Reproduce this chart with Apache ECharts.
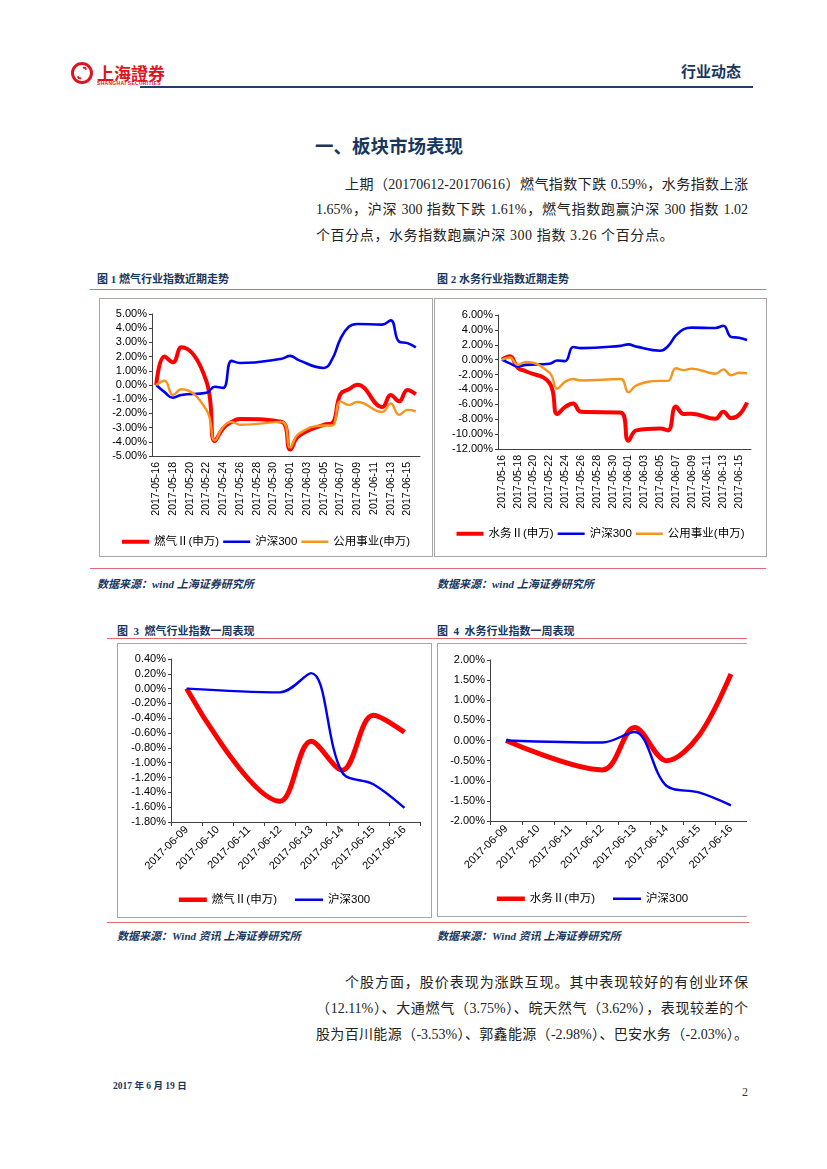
<!DOCTYPE html>
<html><head><meta charset="utf-8">
<script src="https://cdn.jsdelivr.net/npm/echarts@6/dist/echarts.min.js"></script>
<style>
html,body{margin:0;padding:0;background:#fff;}
#page{position:relative;width:827px;height:1169px;overflow:hidden;font-family:"Liberation Serif","Noto Sans CJK SC",serif;}
.abs{position:absolute;white-space:nowrap;}
.navy{color:#17375e;}
.cap{font-family:"Liberation Serif","Noto Sans CJK SC",serif;font-weight:bold;font-size:11px;color:#17375e;}
.src{font-family:"Liberation Serif","Noto Sans CJK SC",serif;font-weight:bold;font-style:italic;font-size:11px;color:#17375e;}
.para{font-size:14px;color:#222;text-align:justify;text-align-last:justify;}
.box{position:absolute;border:1px solid #a6a6a6;box-sizing:border-box;}
.rule{position:absolute;height:1px;background:#e06a70;}
</style></head>
<body><div id="page">
<!-- header -->
<div class="abs" style="left:71px;top:62px;width:22px;height:22px;border-radius:50%;border:3px solid #e0141e;box-sizing:border-box;"></div>
<div class="abs" style="left:78px;top:66px;width:8px;height:14px;border-radius:50%;border:2px solid #e0141e;border-left-color:transparent;border-right-color:transparent;box-sizing:border-box;transform:rotate(30deg);"></div>
<div class="abs" style="left:97px;top:60px;font-size:17px;font-weight:bold;color:#e0141e;font-family:'Noto Sans CJK TC';">上海證券</div>
<div class="abs" style="left:97px;top:80px;font-size:5px;font-weight:bold;color:#e0141e;font-family:'Liberation Sans';letter-spacing:0.3px;">SHANGHAI SECURITIES</div>
<div class="abs navy" style="left:681px;top:60px;font-size:15px;font-weight:bold;font-family:'Noto Sans CJK SC';">行业动态</div>
<div class="abs" style="left:140px;top:86px;width:613px;height:2px;background:#1f3f6a;"></div>

<div class="abs navy" style="left:315px;top:132px;font-size:18.5px;font-weight:bold;font-family:'Noto Sans CJK SC';">一、板块市场表现</div>

<div class="abs para" style="left:345px;top:173px;width:403px;">上期（20170612-20170616）燃气指数下跌 0.59%，水务指数上涨</div>
<div class="abs para" style="left:316px;top:198px;width:432px;">1.65%，沪深 300 指数下跌 1.61%，燃气指数跑赢沪深 300 指数 1.02</div>
<div class="abs" style="left:316px;top:224px;font-size:14px;color:#222;letter-spacing:0.6px;">个百分点，水务指数跑赢沪深 300 指数 3.26 个百分点。</div>

<!-- fig 1/2 captions -->
<div class="abs cap" style="left:97px;top:270px;">图 1 燃气行业指数近期走势</div>
<div class="abs cap" style="left:437px;top:270px;">图 2 水务行业指数近期走势</div>
<div class="rule" style="left:90px;top:289px;width:676px;"></div>

<div id="c1" class="box" style="left:99px;top:298px;width:334px;height:259px;"></div>
<div id="c2" class="box" style="left:434px;top:298px;width:333px;height:259px;"></div>
<div class="rule" style="left:90px;top:568px;width:676px;"></div>
<div class="abs src" style="left:97px;top:575px;">数据来源：wind 上海证券研究所</div>
<div class="abs src" style="left:437px;top:575px;">数据来源：wind 上海证券研究所</div>

<!-- fig 3/4 captions -->
<div class="abs cap" style="left:117px;top:622px;">图 &nbsp;3 &nbsp;燃气行业指数一周表现</div>
<div class="abs cap" style="left:437px;top:622px;">图 &nbsp;4 &nbsp;水务行业指数一周表现</div>
<div class="rule" style="left:107px;top:638px;width:640px;"></div>

<div id="c3" class="box" style="left:117px;top:643px;width:315px;height:275px;"></div>
<div id="c4" class="box" style="left:437px;top:643px;width:310px;height:274px;border-right:none;"></div>
<div class="rule" style="left:107px;top:922px;width:642px;"></div>
<div class="abs src" style="left:117px;top:927px;">数据来源：Wind 资讯 上海证券研究所</div>
<div class="abs src" style="left:437px;top:927px;">数据来源：Wind 资讯 上海证券研究所</div>

<div class="abs para" style="left:345px;top:971px;width:403px;">个股方面，股价表现为涨跌互现。其中表现较好的有创业环保</div>
<div class="abs para" style="left:316px;top:997px;width:432px;">（12.11%）、大通燃气（3.75%）、皖天然气（3.62%），表现较差的个</div>
<div class="abs para" style="left:316px;top:1023px;width:432px;">股为百川能源（-3.53%）、郭鑫能源（-2.98%）、巴安水务（-2.03%）。</div>

<div class="abs navy" style="left:113px;top:1078px;font-size:9.5px;font-weight:bold;">2017 年 6 月 19 日</div>
<div class="abs" style="left:742px;top:1085px;font-size:12px;color:#333;">2</div>
</div>
<script>
// ---- data ----
const monthDates = ['2017-05-16','2017-05-17','2017-05-18','2017-05-19','2017-05-20','2017-05-21','2017-05-22','2017-05-23','2017-05-24','2017-05-25','2017-05-26','2017-05-27','2017-05-28','2017-05-29','2017-05-30','2017-05-31','2017-06-01','2017-06-02','2017-06-03','2017-06-04','2017-06-05','2017-06-06','2017-06-07','2017-06-08','2017-06-09','2017-06-10','2017-06-11','2017-06-12','2017-06-13','2017-06-14','2017-06-15','2017-06-16'];
const gasMonth = [0,2.0,1.6,2.65,null,null,0.25,-3.95,-3.05,-2.6,-2.4,null,null,null,null,-2.6,-4.55,-3.6,null,null,-2.8,-2.7,-0.65,-0.3,0.02,null,null,-1.55,-0.7,-1.15,-0.35,-0.65];
const waterMonth = [0,0.45,-1.1,-1.55,null,null,-3.1,-7.3,-6.35,-5.9,-7.0,null,null,null,null,-7.1,-10.9,-9.5,null,null,-9.25,-9.5,-6.3,-7.3,-7.25,null,null,-7.95,-7.0,-7.85,-7.4,-5.75];
const hs300Month = [0,-0.5,-0.9,-0.7,null,null,-0.55,-0.12,-0.2,1.7,1.55,null,null,null,null,1.85,2.05,1.75,null,null,1.2,1.8,3.25,4.1,4.3,null,null,4.25,4.55,3.05,2.95,2.65];
const utilMonth = [0,0.3,-0.7,-0.3,null,null,-1.75,-3.9,-2.95,-2.6,-2.8,null,null,null,null,-2.6,-4.4,-3.45,null,null,-2.85,-2.85,-1.15,-1.4,-1.2,null,null,-1.9,-1.3,-2.1,-1.75,-1.85];

const weekDates = ['2017-06-09','2017-06-10','2017-06-11','2017-06-12','2017-06-13','2017-06-14','2017-06-15','2017-06-16'];
const gasWeek = [0,null,null,-1.52,-0.71,-1.1,-0.36,-0.59];
const waterWeek = [0,null,null,-0.73,0.32,-0.5,0.12,1.65];
const hs300Week = [0,null,null,-0.05,0.21,-1.13,-1.29,-1.61];

const gasName = '燃气Ⅱ(申万)', waterName = '水务Ⅱ(申万)', hsName = '沪深300', utilName = '公用事业(申万)';

// ---- helpers ----
const fmt = v => (Math.abs(v) < 1e-9 ? 0 : v).toFixed(2) + '%';
const RED = '#ff0000', BLUE = '#0000f0', ORANGE = '#f7941d';
const axisLineStyle = {lineStyle:{color:'#404040',width:1}};

// legend icons: a bar of a given thickness centred in a 10-unit tall box (tiny corner specks fix the bounding box)
function barIcon(th){
  const a = (10 - th) / 2, b = a + th;
  return 'path://M0,0L0.02,0L0.02,0.02Z M0,' + a + 'L30,' + a + 'L30,' + b + 'L0,' + b + 'Z M29.98,10L30,10L30,9.98Z';
}

function line(name, data, color, width, smooth){
  return {name, type:'line', data, smooth:smooth, connectNulls:true, symbol:'none', showSymbol:false,
          lineStyle:{color, width}, itemStyle:{color}};
}

function makeChart(id, opt){
  const ch = echarts.init(document.getElementById(id), null, {renderer:'canvas'});
  ch.setOption(opt);
}

function legendItems(list){
  return list.map(([name, color, th]) => ({name, icon:barIcon(th), itemStyle:{color, borderWidth:0}}));
}

function baseOpt(grid, cats, yMin, yMax, yInt, series, legend, xLabel, xTick){
  return {
    animation:false,
    grid,
    legend,
    xAxis:{type:'category', data:cats, boundaryGap:true,
      axisLine:{onZero:false, ...axisLineStyle},
      axisTick:xTick, axisLabel:xLabel},
    yAxis:{type:'value', min:yMin, max:yMax, interval:yInt, splitLine:{show:false},
      axisLine:{show:true, ...axisLineStyle}, axisTick:{show:true, length:3, lineStyle:{color:'#404040'}},
      axisLabel:{formatter:fmt, fontSize:11, color:'#000', fontFamily:'Liberation Sans', margin:5}},
    series
  };
}

const monthXLabel = {interval:1, rotate:90, fontSize:10.5, color:'#000', fontFamily:'Liberation Sans', margin:6};
const weekXLabel = {interval:0, rotate:45, fontSize:11, color:'#000', fontFamily:'Liberation Sans', margin:6};
const legTxt = {fontSize:11.5, color:'#000', fontFamily:'Liberation Sans, Noto Sans CJK SC'};

makeChart('c1', baseOpt({left:52, right:12, top:15, height:142}, monthDates, -5, 5, 1,
  [line(gasName, gasMonth, RED, 4, 0.45), line(hsName, hs300Month, BLUE, 2.6, 0.45), line(utilName, utilMonth, ORANGE, 2.4, 0.45)],
  {top:232, left:'center', itemWidth:27, itemHeight:10, itemGap:4, textStyle:legTxt,
   data:legendItems([[gasName, RED, 4.5], [hsName, BLUE, 2.6], [utilName, ORANGE, 2.6]])},
  monthXLabel, {show:false}));

makeChart('c2', baseOpt({left:63, right:15, top:16, height:134}, monthDates, -12, 6, 2,
  [line(waterName, waterMonth, RED, 4, 0.45), line(hsName, hs300Month, BLUE, 2.6, 0.45), line(utilName, utilMonth, ORANGE, 2.4, 0.45)],
  {top:224, left:'center', itemWidth:27, itemHeight:10, itemGap:4, textStyle:legTxt,
   data:legendItems([[waterName, RED, 4.5], [hsName, BLUE, 2.6], [utilName, ORANGE, 2.6]])},
  monthXLabel, {show:false}));

makeChart('c3', baseOpt({left:53, right:11, top:15, height:163}, weekDates, -1.8, 0.4, 0.2,
  [line(gasName, gasWeek, RED, 5, 0.35), line(hsName, hs300Week, BLUE, 2.4, 0.35)],
  {top:245, left:'center', itemWidth:28, itemHeight:10, itemGap:18, textStyle:legTxt,
   data:legendItems([[gasName, RED, 5], [hsName, BLUE, 2.6]])},
  weekXLabel, {show:true, length:4, lineStyle:{color:'#404040'}}));

makeChart('c4', baseOpt({left:52, right:0, top:16, height:161}, weekDates, -2, 2, 0.5,
  [line(waterName, waterWeek, RED, 5, 0.35), line(hsName, hs300Week, BLUE, 2.4, 0.35)],
  {top:244, left:'center', itemWidth:28, itemHeight:10, itemGap:18, textStyle:legTxt,
   data:legendItems([[waterName, RED, 5], [hsName, BLUE, 2.6]])},
  weekXLabel, {show:true, length:4, lineStyle:{color:'#404040'}}));
</script>
</body></html>
